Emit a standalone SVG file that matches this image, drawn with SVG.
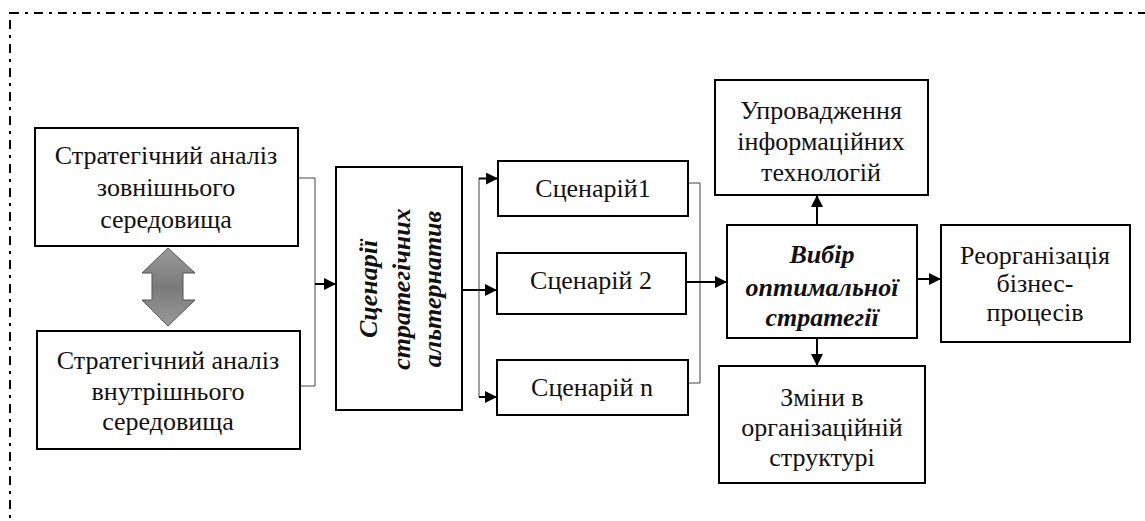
<svg xmlns="http://www.w3.org/2000/svg" width="1145" height="521" viewBox="0 0 1145 521">
<style>
.box{fill:#fff;stroke:#000;stroke-width:2}
.t{font-family:"Liberation Serif","Times New Roman",serif;font-size:26px;fill:#111;text-anchor:middle;dominant-baseline:central}
.b{font-weight:bold;font-style:italic;font-size:26px}
.thin{fill:none;stroke:#444;stroke-width:1}
.arr{fill:none;stroke:#000;stroke-width:2;marker-end:url(#ah)}
</style>
<defs>
<marker id="ah" viewBox="0 0 10 10" refX="10" refY="5" markerWidth="12" markerHeight="12" markerUnits="userSpaceOnUse" orient="auto">
<path d="M0,0 L10,5 L0,10 Z" fill="#000"/>
</marker>
<linearGradient id="g" x1="0" y1="0" x2="0" y2="1">
<stop offset="0" stop-color="#9a9a9a"/>
<stop offset="0.5" stop-color="#7a7a7a"/>
<stop offset="1" stop-color="#999"/>
</linearGradient>
</defs>
<rect x="10" y="13" width="1160" height="540" fill="none" stroke="#000" stroke-width="2" stroke-dasharray="9 6 3 6"/>
<g id="connectors">
<polyline class="thin" points="298,178 315,178 315,386 300,386"/>
<line class="arr" x1="315" y1="284" x2="336" y2="284"/>
<line x1="462" y1="290" x2="479" y2="290" stroke="#000" stroke-width="2"/>
<line class="thin" x1="479" y1="178" x2="479" y2="397"/>
<line class="arr" x1="479" y1="290" x2="497" y2="290"/>
<polyline class="arr" points="479,178.5 498,178.5"/>
<polyline class="arr" points="479,397 497,397"/>
<polyline class="thin" points="688,183 700,183 700,383 688,383"/>
<line class="arr" x1="686" y1="282" x2="727" y2="282"/>
<line class="arr" x1="817" y1="225" x2="817" y2="195"/>
<line class="arr" x1="817" y1="338" x2="817" y2="366"/>
<line class="arr" x1="917" y1="279" x2="941" y2="279"/>
<polygon id="double-arrow" points="168,248 195,273 183,273 183,300 195,300 168,326 142,300 152,300 152,273 142,273" fill="url(#g)" stroke="#555" stroke-width="1"/>
</g>
<g id="ext">
<rect class="box" x="35" y="128" width="263" height="118"/>
<text class="t" x="166" y="155">Стратегічний аналіз</text>
<text class="t" x="166" y="187">зовнішнього</text>
<text class="t" x="166" y="219">середовища</text>
</g>
<g id="int">
<rect class="box" x="37" y="331" width="263" height="118"/>
<text class="t" x="168" y="360">Стратегічний аналіз</text>
<text class="t" x="168" y="391">внутрішнього</text>
<text class="t" x="168" y="421">середовища</text>
</g>
<g id="scen-alt">
<rect class="box" x="336" y="167" width="126" height="243"/>
<g transform="translate(400,289) rotate(-90)">
<text class="t b" x="0" y="-32">Сценарії</text>
<text class="t b" x="0" y="1">стратегічних</text>
<text class="t b" x="0" y="32">альтернатив</text>
</g>
</g>
<g id="s1">
<rect class="box" x="498" y="161" width="190" height="55"/>
<text class="t" x="593" y="188">Сценарій1</text>
</g>
<g id="s2">
<rect class="box" x="497" y="253" width="189" height="61"/>
<text class="t" x="591" y="280">Сценарій 2</text>
</g>
<g id="sn">
<rect class="box" x="497" y="360" width="191" height="55"/>
<text class="t" x="592" y="387">Сценарій n</text>
</g>
<g id="choice">
<rect class="box" x="727" y="225" width="190" height="113"/>
<text class="t b" x="822" y="254">Вибір</text>
<text class="t b" x="822" y="287">оптимальної</text>
<text class="t b" x="822" y="317">стратегії</text>
</g>
<g id="it">
<rect class="box" x="715" y="80" width="213" height="115"/>
<text class="t" x="821" y="110">Упровадження</text>
<text class="t" x="821" y="141">інформаційних</text>
<text class="t" x="821" y="172">технологій</text>
</g>
<g id="org">
<rect class="box" x="719" y="366" width="206" height="117"/>
<text class="t" x="822" y="397">Зміни в</text>
<text class="t" x="822" y="427">організаційній</text>
<text class="t" x="822" y="457">структурі</text>
</g>
<g id="reorg">
<rect class="box" x="941" y="225" width="189" height="117"/>
<text class="t" x="1035" y="255">Реорганізація</text>
<text class="t" x="1035" y="283">бізнес-</text>
<text class="t" x="1035" y="312">процесів</text>
</g>
</svg>
